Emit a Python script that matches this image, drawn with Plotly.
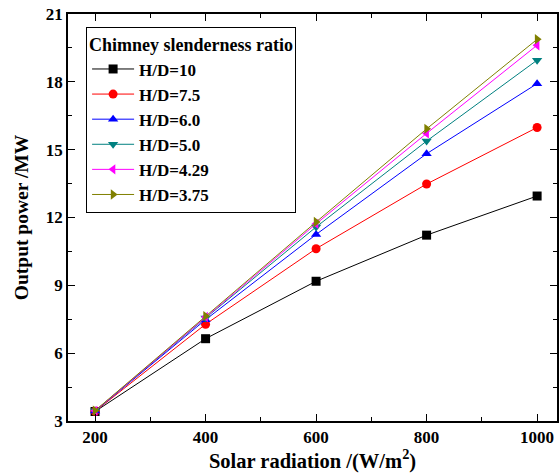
import plotly.graph_objects as go

radiation = [200, 400, 600, 800, 1000]
series_names = ["H/D=10", "H/D=7.5", "H/D=6.0", "H/D=5.0", "H/D=4.29", "H/D=3.75"]
hd_10 = [3.42, 6.64, 9.18, 11.22, 12.95]
hd_7_5 = [3.43, 7.28, 10.62, 13.48, 15.98]
hd_6_0 = [3.44, 7.48, 11.25, 14.82, 17.92]
hd_5_0 = [3.45, 7.56, 11.58, 15.38, 18.96]
hd_4_29 = [3.45, 7.60, 11.72, 15.72, 19.62]
hd_3_75 = [3.46, 7.64, 11.80, 15.92, 19.88]
series_values = [hd_10, hd_7_5, hd_6_0, hd_5_0, hd_4_29, hd_3_75]

colors = ["#000000", "#FF0000", "#0000FF", "#008080", "#FF00FF", "#808000"]
symbols = ["square", "circle", "triangle-up", "triangle-down", "triangle-left", "triangle-right"]

fig = go.Figure()
for name, vals, c, s in zip(series_names, series_values, colors, symbols):
    fig.add_trace(go.Scatter(
        x=radiation, y=vals, name=name, mode="lines+markers",
        line=dict(color=c, width=1),
        marker=dict(symbol=s, size=9, color=c),
    ))

font_family = "Liberation Serif"
axis_common = dict(
    showline=True, linecolor="black", linewidth=1.5, mirror="allticks",
    ticks="inside", ticklen=7, tickwidth=1.2, tickcolor="black",
    showgrid=False, zeroline=False,
    tickfont=dict(family=font_family, size=17, color="black", weight="bold"),
)

fig.update_layout(
    width=560, height=473,
    margin=dict(l=68, r=1, t=14, b=52),
    paper_bgcolor="white", plot_bgcolor="white",
    font=dict(family=font_family, color="black"),
    showlegend=True,
    legend=dict(
        x=0.037, y=0.968, xanchor="left", yanchor="top",
        bordercolor="black", borderwidth=1, bgcolor="white",
        title=dict(text="<b>Chimney slenderness ratio</b>", font=dict(family=font_family, size=18, color="black")),
        font=dict(family=font_family, size=17, color="black", weight="bold"),
        tracegroupgap=0, itemwidth=42,
    ),
    xaxis=dict(
        range=[151, 1036], tickvals=[200, 400, 600, 800, 1000],
        minor=dict(tickvals=[300, 500, 700, 900], ticks="inside", ticklen=4, tickcolor="black", tickwidth=1.2),
        title=dict(text="<b>Solar radiation /(W/m<sup>2</sup>)</b>", font=dict(family=font_family, size=20.5, color="black"), standoff=5),
        **axis_common,
    ),
    yaxis=dict(
        range=[3, 21], tickvals=[3, 6, 9, 12, 15, 18, 21],
        minor=dict(tickvals=[4.5, 7.5, 10.5, 13.5, 16.5, 19.5], ticks="inside", ticklen=4, tickcolor="black", tickwidth=1.2),
        title=dict(text="<b>Output power /MW</b>", font=dict(family=font_family, size=19.5, color="black"), standoff=12),
        **axis_common,
    ),
)

fig.write_html("out.html")
